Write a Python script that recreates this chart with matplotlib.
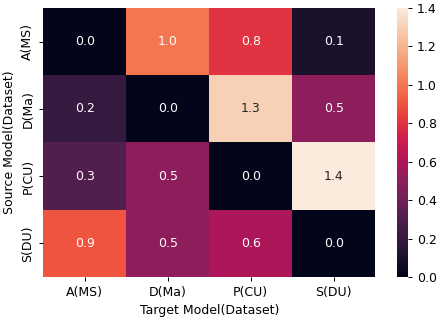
import matplotlib
matplotlib.use("Agg")
import matplotlib.pyplot as plt
import seaborn as sns
import numpy as np
import pandas as pd

rows = ["A(MS)", "D(Ma)", "P(CU)", "S(DU)"]
cols = ["A(MS)", "D(Ma)", "P(CU)", "S(DU)"]
row_a = [0.0, 1.0, 0.8, 0.1]
row_d = [0.2, 0.0, 1.3, 0.5]
row_p = [0.3, 0.5, 0.0, 1.4]
row_s = [0.9, 0.5, 0.6, 0.0]

df = pd.DataFrame([row_a, row_d, row_p, row_s], index=rows, columns=cols)

DPI = 90
fig = plt.figure(figsize=(440/DPI, 318/DPI), dpi=DPI)
ax = fig.add_axes([0.098, 0.129, 0.755, 0.846])
cax = fig.add_axes([0.902, 0.129, 0.025, 0.846])
sns.heatmap(df, annot=True, fmt=".1f", ax=ax, cbar_ax=cax, vmin=0, vmax=1.4,
            annot_kws={"size": 10})
ax.set_xlabel("Target Model(Dataset)", fontsize=10)
ax.set_ylabel("Source Model(Dataset)", fontsize=10)
ax.tick_params(labelsize=10)
cax.tick_params(labelsize=10)
fig.savefig("out.png", dpi=DPI)
